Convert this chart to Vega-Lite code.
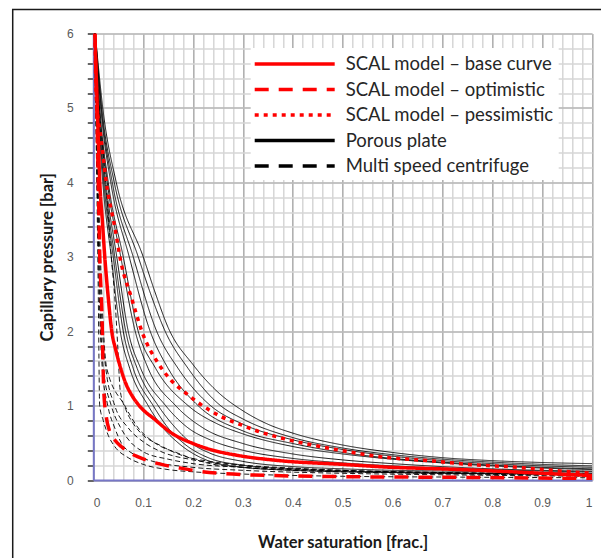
{
  "$schema": "https://vega.github.io/schema/vega-lite/v6.json",
  "width": 498.7,
  "height": 446.5,
  "autosize": {"type": "none"},
  "padding": {"left": 93.3, "top": 33.5, "right": 9, "bottom": 78},
  "background": "#ffffff",
  "config": {
    "view": {"stroke": null},
    "axis": {"labelFont": "Liberation Sans", "labelFontSize": 12, "labelColor": "#595959", "titleFont": "Lato", "titleFontWeight": "bold", "titleFontSize": 16.5, "titleColor": "#1a1a1a"}
  },
  "datasets": {
    "curves": [
      {"series": "Porous plate", "curve": "P1", "x": [0.004,0.019,0.046,0.100,0.125,0.150,0.200,0.250,0.300,0.350,0.400,0.500,0.600,0.700,0.800,0.900,1.000], "y": [6.0,5.0,4.0,3.0,2.5,2.05,1.55,1.18,0.93,0.75,0.63,0.47,0.37,0.30,0.26,0.235,0.22]},
      {"series": "Porous plate", "curve": "P2", "x": [0.004,0.017,0.042,0.090,0.115,0.144,0.190,0.255,0.300,0.400,0.500,0.600,0.700,0.800,0.900,1.000], "y": [6.0,5.0,4.0,3.0,2.5,2.0,1.5,1.0,0.82,0.57,0.43,0.34,0.28,0.24,0.21,0.19]},
      {"series": "Porous plate", "curve": "P3", "x": [0.004,0.016,0.038,0.080,0.127,0.170,0.235,0.300,0.400,0.500,0.600,0.700,0.800,0.900,1.000], "y": [6.0,5.0,4.0,3.0,2.0,1.5,1.0,0.75,0.54,0.41,0.32,0.26,0.22,0.19,0.17]},
      {"series": "Porous plate", "curve": "P4", "x": [0.004,0.015,0.035,0.072,0.114,0.150,0.210,0.300,0.400,0.500,0.600,0.700,0.800,0.900,1.000], "y": [6.0,5.0,4.0,3.0,2.0,1.5,1.0,0.66,0.49,0.37,0.29,0.24,0.20,0.17,0.15]},
      {"series": "Porous plate", "curve": "P5", "x": [0.004,0.013,0.030,0.060,0.090,0.125,0.190,0.250,0.300,0.400,0.500,0.600,0.700,0.800,0.900,1.000], "y": [6.0,5.0,4.0,3.0,2.0,1.5,1.0,0.75,0.62,0.45,0.35,0.28,0.23,0.19,0.16,0.14]},
      {"series": "Porous plate", "curve": "P6", "x": [0.003,0.012,0.028,0.055,0.084,0.110,0.165,0.220,0.300,0.400,0.500,0.600,0.700,0.800,0.900,1.000], "y": [6.0,5.0,4.0,3.0,2.0,1.5,1.0,0.70,0.49,0.35,0.27,0.22,0.18,0.15,0.13,0.12]},
      {"series": "Porous plate", "curve": "P7", "x": [0.003,0.011,0.025,0.047,0.070,0.095,0.145,0.190,0.234,0.300,0.400,0.500,0.600,0.700,0.800,0.900,1.000], "y": [6.0,5.0,4.0,3.0,2.0,1.5,1.0,0.70,0.54,0.40,0.29,0.23,0.19,0.16,0.14,0.12,0.11]},
      {"series": "Porous plate", "curve": "P8", "x": [0.003,0.010,0.023,0.043,0.065,0.088,0.130,0.165,0.200,0.234,0.300,0.400,0.500,0.600,0.700,0.800,0.900,1.000], "y": [6.0,5.0,4.0,3.0,2.0,1.5,1.0,0.70,0.48,0.36,0.25,0.18,0.15,0.13,0.12,0.11,0.10,0.09]},
      {"series": "Porous plate", "curve": "P9", "x": [0.003,0.010,0.021,0.040,0.060,0.080,0.120,0.150,0.180,0.234,0.300,0.400,0.500,0.600,0.700,0.800,0.900,1.000], "y": [6.0,5.0,4.0,3.0,2.0,1.5,1.0,0.70,0.50,0.29,0.20,0.15,0.12,0.11,0.10,0.09,0.085,0.08]},
      {"series": "Porous plate", "curve": "P10", "x": [0.003,0.009,0.019,0.036,0.054,0.073,0.110,0.140,0.170,0.234,0.300,0.400,0.500,0.600,0.700,0.800,0.900,1.000], "y": [6.0,5.0,4.0,3.0,2.0,1.5,1.0,0.70,0.50,0.25,0.17,0.13,0.11,0.10,0.09,0.085,0.08,0.075]},
      {"series": "Multi speed centrifuge", "curve": "D1", "x": [0.003,0.012,0.025,0.036,0.0435,0.049,0.054,0.065,0.080,0.100,0.127,0.187,0.234,0.300,0.400,0.500,0.600,0.700,0.800,0.900,1.000], "y": [6.0,5.0,4.0,3.0,2.42,1.8,1.2,0.95,0.76,0.6,0.49,0.31,0.25,0.2,0.16,0.13,0.11,0.1,0.09,0.08,0.07]},
      {"series": "Multi speed centrifuge", "curve": "D2", "x": [0.003,0.008,0.012,0.018,0.029,0.043,0.056,0.080,0.120,0.200,0.300,0.500,0.700,1.000], "y": [6.0,4.0,2.5,1.5,1.0,0.7,0.5,0.35,0.25,0.17,0.13,0.09,0.07,0.05]},
      {"series": "Multi speed centrifuge", "curve": "D3", "x": [0.003,0.008,0.013,0.020,0.036,0.055,0.076,0.100,0.150,0.200,0.300,0.400,0.500,0.700,1.000], "y": [6.0,4.0,2.5,1.5,1.0,0.7,0.5,0.38,0.28,0.22,0.17,0.14,0.12,0.09,0.07]},
      {"series": "Multi speed centrifuge", "curve": "D4", "x": [0.002,0.007,0.010,0.0128,0.020,0.030,0.043,0.070,0.100,0.150,0.200,0.300,0.500,0.700,1.000], "y": [6.0,4.0,2.5,1.0,0.8,0.6,0.45,0.3,0.21,0.14,0.11,0.08,0.05,0.04,0.03]},
      {"series": "Multi speed centrifuge", "curve": "D5", "x": [0.003,0.009,0.015,0.025,0.043,0.070,0.103,0.140,0.200,0.300,0.400,0.500,0.700,1.000], "y": [6.0,4.0,2.5,1.5,1.0,0.7,0.5,0.37,0.27,0.19,0.15,0.13,0.1,0.08]},
      {"series": "Multi speed centrifuge", "curve": "D6", "x": [0.003,0.010,0.017,0.027,0.063,0.090,0.123,0.170,0.234,0.300,0.400,0.500,0.700,1.000], "y": [6.0,4.0,2.5,1.5,1.0,0.7,0.5,0.36,0.22,0.17,0.13,0.11,0.085,0.06]},
      {"series": "SCAL model – base curve", "curve": "R1", "x": [0.003,0.008,0.013,0.018,0.023,0.030,0.037,0.045,0.055,0.065,0.078,0.092,0.124,0.157,0.200,0.240,0.290,0.374,0.500,0.600,0.695,0.775,0.900,1.000], "y": [6.0,5.0,4.0,3.5,3.0,2.45,2.0,1.75,1.5,1.3,1.13,1.0,0.81,0.63,0.49,0.40,0.33,0.26,0.21,0.17,0.15,0.13,0.09,0.06]},
      {"series": "SCAL model – optimistic", "curve": "R2", "x": [0.003,0.007,0.010,0.013,0.017,0.021,0.026,0.032,0.044,0.056,0.067,0.090,0.114,0.143,0.167,0.210,0.310,0.500,0.750,1.000], "y": [6.0,5.0,4.0,3.0,2.3,1.2,0.85,0.67,0.53,0.45,0.39,0.31,0.25,0.20,0.17,0.12,0.07,0.045,0.035,0.02]},
      {"series": "SCAL model – pessimistic", "curve": "R3", "x": [0.003,0.006,0.016,0.026,0.043,0.056,0.076,0.100,0.130,0.156,0.186,0.203,0.257,0.297,0.337,0.377,0.478,0.580,0.680,0.770,0.830,0.916,0.976,1.0], "y": [6.0,5.15,4.57,4.0,3.4,2.91,2.46,1.95,1.57,1.34,1.165,1.075,0.85,0.74,0.64,0.565,0.42,0.31,0.255,0.2,0.18,0.134,0.1,0.09]}
    ]
  },
  "resolve": {"axis": {"x": "independent", "y": "independent"}},
  "layer": [
    {
      "data": {"values": [{}]},
      "mark": {"type": "rect", "fillOpacity": 0, "stroke": "#1a1a1a", "strokeWidth": 1.5, "clip": false},
      "encoding": {
        "x": {"datum": -0.1616, "type": "quantitative", "scale": {"domain": [0, 1], "nice": false, "zero": false},
          "axis": {"orient": "bottom", "title": null, "labels": false, "ticks": false, "domain": false, "grid": true, "gridColor": "#d6d6d6", "gridWidth": 1.5,
            "values": [0,0.02,0.04,0.06,0.08,0.1,0.12,0.14,0.16,0.18,0.2,0.22,0.24,0.26,0.28,0.3,0.32,0.34,0.36,0.38,0.4,0.42,0.44,0.46,0.48,0.5,0.52,0.54,0.56,0.58,0.6,0.62,0.64,0.66,0.68,0.7,0.72,0.74,0.76,0.78,0.8,0.82,0.84,0.86,0.88,0.9,0.92,0.94,0.96,0.98,1]}},
        "x2": {"datum": 1.5},
        "y": {"datum": 6.324, "type": "quantitative", "scale": {"domain": [0, 6], "nice": false, "zero": false},
          "axis": {"orient": "left", "title": null, "labels": false, "ticks": true, "tickColor": "#333333", "tickSize": 6, "tickWidth": 1.5, "domain": false, "grid": true, "gridColor": "#d6d6d6", "gridWidth": 1.5,
            "values": [0,0.2,0.4,0.6,0.8,1,1.2,1.4,1.6,1.8,2,2.2,2.4,2.6,2.8,3,3.2,3.4,3.6,3.8,4,4.2,4.4,4.6,4.8,5,5.2,5.4,5.6,5.8,6]}},
        "y2": {"datum": -3}
      }
    },
    {
      "data": {"name": "curves"},
      "transform": [
        {"flatten": ["x", "y"]},
        {"filter": {"field": "series", "equal": "Porous plate"}}
      ],
      "mark": {"type": "line", "strokeWidth": 0.9, "interpolate": "monotone", "clip": true},
      "encoding": {
        "x": {"field": "x", "type": "quantitative", "scale": {"domain": [0, 1], "nice": false, "zero": false},
          "axis": {"orient": "bottom", "title": "Water saturation [frac.]", "titlePadding": 26, "format": "~g", "ticks": false, "labelPadding": 17, "domain": true, "domainColor": "#7676c6", "domainWidth": 2, "grid": true, "gridColor": "#a8a8a8", "gridWidth": 1.2,
            "values": [0,0.1,0.2,0.3,0.4,0.5,0.6,0.7,0.8,0.9,1]}},
        "y": {"field": "y", "type": "quantitative", "scale": {"domain": [0, 6], "nice": false, "zero": false},
          "axis": {"orient": "left", "title": "Capillary pressure [bar]", "titlePadding": 11, "format": "~g", "ticks": false, "labelPadding": 20, "domain": true, "domainColor": "#7676c6", "domainWidth": 2, "grid": true, "gridColor": "#a8a8a8", "gridWidth": 1.2,
            "values": [0,1,2,3,4,5,6]}},
        "color": {"field": "series", "type": "nominal",
          "scale": {"domain": ["SCAL model – base curve", "SCAL model – optimistic", "SCAL model – pessimistic", "Porous plate", "Multi speed centrifuge"], "range": ["#ff0000", "#ff0000", "#ff0000", "#000000", "#000000"]},
          "legend": {"title": null, "orient": "none", "legendX": 157.4, "legendY": 14.5, "fillColor": "#ffffff", "padding": 4,
            "symbolType": "M-4,0H4", "symbolSize": 400, "symbolStrokeWidth": 3.3, "symbolOffset": 28, "labelOffset": 39, "rowPadding": 3.5,
            "labelFont": "Lato", "labelFontSize": 18.5, "labelColor": "#262626", "labelLimit": 400}},
        "strokeDash": {"field": "series", "type": "nominal",
          "scale": {"domain": ["SCAL model – base curve", "SCAL model – optimistic", "SCAL model – pessimistic", "Porous plate", "Multi speed centrifuge"], "range": [[1,0],[14,10],[4,5],[1,0],[14,10]]}},
        "detail": {"field": "curve", "type": "nominal"}
      }
    },
    {
      "data": {"name": "curves"},
      "transform": [
        {"flatten": ["x", "y"]},
        {"filter": {"field": "series", "equal": "Multi speed centrifuge"}}
      ],
      "mark": {"type": "line", "strokeWidth": 0.9, "strokeDash": [5, 3], "interpolate": "monotone", "clip": true},
      "encoding": {
        "x": {"field": "x", "type": "quantitative", "axis": null},
        "y": {"field": "y", "type": "quantitative", "axis": null},
        "color": {"field": "series", "type": "nominal"},
        "detail": {"field": "curve", "type": "nominal"}
      }
    },
    {
      "data": {"name": "curves"},
      "transform": [
        {"flatten": ["x", "y"]},
        {"filter": {"field": "series", "oneOf": ["SCAL model – base curve", "SCAL model – optimistic", "SCAL model – pessimistic"]}}
      ],
      "mark": {"type": "line", "strokeWidth": 3.5, "interpolate": "monotone", "clip": true},
      "encoding": {
        "x": {"field": "x", "type": "quantitative", "axis": null},
        "y": {"field": "y", "type": "quantitative", "axis": null},
        "color": {"field": "series", "type": "nominal"},
        "strokeDash": {"field": "series", "type": "nominal"},
        "detail": {"field": "curve", "type": "nominal"}
      }
    }
  ]
}
